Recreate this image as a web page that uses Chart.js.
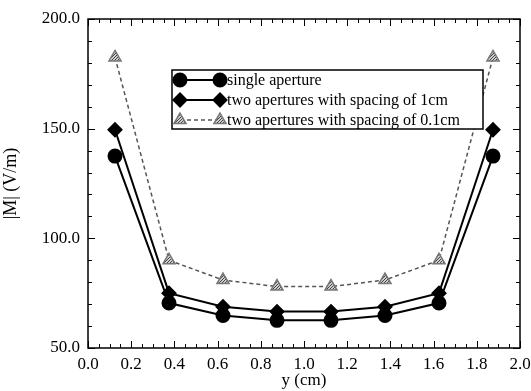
<!DOCTYPE html>
<html>
<head>
<meta charset="utf-8">
<script src="https://cdn.jsdelivr.net/npm/chart.js@4/dist/chart.umd.min.js"></script>
<style>
  html, body { margin: 0; padding: 0; background: #fff; }
  #wrap { width: 531px; height: 391px; }
</style>
</head>
<body>
<div id="wrap"><canvas id="c"></canvas></div>
<script>
// data
const positions = [0.125, 0.375, 0.625, 0.875, 1.125, 1.375, 1.625, 1.875];
const singleAperture = [137.5, 70.5, 64.8, 62.6, 62.6, 64.8, 70.5, 137.5];
const twoApertures1cm = [149.5, 75.0, 68.8, 66.6, 66.6, 68.8, 75.0, 149.5];
const twoApertures01cm = [182.5, 90.0, 81.0, 78.0, 78.0, 81.0, 90.0, 182.5];
const seriesNames = [
    "single aperture",
    "two apertures with spacing of 1cm",
    "two apertures with spacing of 0.1cm"
];

const serif = "'Liberation Serif', 'DejaVu Serif', serif";

// hatched gray fill for the triangles
const patCanv = document.createElement("canvas");
patCanv.width = 3;
patCanv.height = 3;
const pctx = patCanv.getContext("2d");
pctx.fillStyle = "#cfcfcf";
pctx.fillRect(0, 0, 3, 3);
pctx.fillStyle = "#444";
pctx.fillRect(0, 0, 1, 1);
pctx.fillRect(2, 1, 1, 1);
pctx.fillRect(1, 2, 1, 1);
const hatch = pctx.createPattern(patCanv, "repeat");

function toXY(vals)
{
    return vals.map((v, i) => ({ x: positions[i], y: v }));
}

// inward ticks on all four sides plus the frame
const frameTicks = {
    id: "frameTicks",
    afterDraw(chart)
    {
        const ctx = chart.ctx;
        const a = chart.chartArea;
        const xs = chart.scales.x;
        const ys = chart.scales.y;
        ctx.save();
        ctx.strokeStyle = "#000";
        ctx.lineWidth = 1;
        for(let k = 0; k <= 40; k += 1)
        {
            const v = k * 0.05;
            const px = Math.round(xs.getPixelForValue(v)) + 0.5;
            const len = (k % 4 === 0) ? 7 : 4;
            ctx.beginPath();
            ctx.moveTo(px, a.bottom); ctx.lineTo(px, a.bottom - len);
            ctx.moveTo(px, a.top); ctx.lineTo(px, a.top + len);
            ctx.stroke();
        }
        for(let v = 50; v <= 200; v += 10)
        {
            const py = Math.round(ys.getPixelForValue(v)) + 0.5;
            const len = (v % 50 === 0) ? 7 : 4;
            ctx.beginPath();
            ctx.moveTo(a.left, py); ctx.lineTo(a.left + len, py);
            ctx.moveTo(a.right, py); ctx.lineTo(a.right - len, py);
            ctx.stroke();
        }
        ctx.lineWidth = 1.5;
        ctx.strokeRect(a.left, a.top, a.right - a.left, a.bottom - a.top);
        ctx.restore();
    }
};

// boxed legend with line + marker at both ends
const boxLegend = {
    id: "boxLegend",
    afterDraw(chart)
    {
        const ctx = chart.ctx;
        const bx = 172, by = 70, bw = 311, bh = 59;
        ctx.save();
        ctx.fillStyle = "#fff";
        ctx.fillRect(bx, by, bw, bh);
        ctx.strokeStyle = "#000";
        ctx.lineWidth = 1.5;
        ctx.strokeRect(bx, by, bw, bh);
        ctx.font = "16px " + serif;
        ctx.textBaseline = "middle";
        chart.data.datasets.forEach((ds, i) =>
        {
            const y = by + 10 + i * 20;
            const x0 = bx + 8, x1 = bx + 48;
            ctx.beginPath();
            ctx.strokeStyle = ds.borderColor;
            ctx.lineWidth = ds.borderWidth;
            ctx.setLineDash(ds.borderDash || []);
            ctx.moveTo(x0, y); ctx.lineTo(x1, y);
            ctx.stroke();
            ctx.setLineDash([]);
            const opts = {
                pointStyle: ds.pointStyle,
                radius: ds.pointRadius,
                rotation: 0,
                borderWidth: 1
            };
            for(const px of [x0, x1])
            {
                ctx.fillStyle = ds.pointBackgroundColor;
                ctx.strokeStyle = ds.pointBorderColor;
                Chart.helpers.drawPoint(ctx, opts, px, y);
            }
            ctx.fillStyle = "#000";
            ctx.fillText(ds.label, x1 + 7, y + 1);
        });
        ctx.restore();
    }
};

const ctx = document.getElementById("c").getContext("2d");

const myChart = new Chart(ctx,
{
    type: "line",
    data:
    {
        datasets:
        [{
            label: seriesNames[0],
            data: toXY(singleAperture),
            borderColor: "#000",
            borderWidth: 2,
            pointStyle: "circle",
            pointRadius: 6.5,
            pointBackgroundColor: "#000",
            pointBorderColor: "#000",
            tension: 0
        },
        {
            label: seriesNames[1],
            data: toXY(twoApertures1cm),
            borderColor: "#000",
            borderWidth: 2,
            pointStyle: "rectRot",
            pointRadius: 6.5,
            pointBackgroundColor: "#000",
            pointBorderColor: "#000",
            tension: 0
        },
        {
            label: seriesNames[2],
            data: toXY(twoApertures01cm),
            borderColor: "#555",
            borderWidth: 1.5,
            borderDash: [4, 3],
            pointStyle: "triangle",
            pointRadius: 7,
            pointBackgroundColor: hatch,
            pointBorderColor: "#777",
            tension: 0
        }]
    },
    options:
    {
        responsive: true,
        maintainAspectRatio: false,
        animation: false,
        layout: { padding: { left: 0, top: 19, right: 11, bottom: 0 } },
        plugins: { legend: { display: false }, tooltip: { enabled: false } },
        scales:
        {
            x:
            {
                type: "linear",
                min: 0,
                max: 2,
                grid: { display: false, drawTicks: false },
                border: { display: false },
                ticks:
                {
                    stepSize: 0.2,
                    color: "#000",
                    padding: 6,
                    font: { family: serif, size: 17 },
                    maxRotation: 0,
                    callback: v => v.toFixed(1)
                },
                title:
                {
                    display: true,
                    text: "y (cm)",
                    color: "#000",
                    padding: { top: 0, bottom: 0 },
                    font: { family: serif, size: 17 }
                },
                afterFit: s => { s.height = 43; s.paddingLeft = 0; s.paddingRight = 0; }
            },
            y:
            {
                min: 50,
                max: 200,
                grid: { display: false, drawTicks: false },
                border: { display: false },
                ticks:
                {
                    stepSize: 50,
                    color: "#000",
                    padding: 8,
                    font: { family: serif, size: 17 },
                    callback: v => v.toFixed(1)
                },
                title:
                {
                    display: true,
                    text: "|M| (V/m)",
                    color: "#000",
                    padding: { top: 0, bottom: 2 },
                    font: { family: serif, size: 18 }
                },
                afterFit: s => { s.width = 88; s.paddingTop = 0; s.paddingBottom = 0; }
            }
        }
    },
    plugins: [frameTicks, boxLegend]
});
</script>
</body>
</html>
